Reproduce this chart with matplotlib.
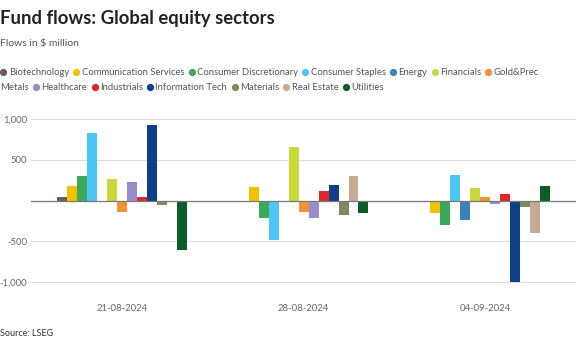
import numpy as np
import matplotlib.pyplot as plt
from matplotlib.lines import Line2D

dates = ["21-08-2024", "28-08-2024", "04-09-2024"]
sectors = ["Biotechnology", "Communication Services", "Consumer Discretionary",
           "Consumer Staples", "Energy", "Financials", "Gold&Prec Metals",
           "Healthcare", "Industrials", "Information Tech", "Materials",
           "Real Estate", "Utilities"]
colors = ["#6e5d50", "#f2c200", "#3da85c", "#4cc6f5", "#3b82b9", "#c9d93c",
          "#f3932e", "#9a8ccb", "#e0282c", "#0f3f88", "#7f8b5e", "#c8aa93",
          "#0b5d26"]
# flows per sector, one value per date
biotech = [40, 0, 0]
comm_services = [185, 170, -150]
cons_disc = [300, -220, -305]
cons_staples = [828, -483, 312]
energy = [-15, 0, -240]
financials = [263, 655, 156]
gold = [-135, -135, 42]
healthcare = [230, -216, -45]
industrials = [45, 115, 78]
info_tech = [933, 190, -1000]
materials = [-60, -175, -73]
real_estate = [0, 300, -393]
utilities = [-613, -155, 180]
values = [biotech, comm_services, cons_disc, cons_staples, energy, financials,
          gold, healthcare, industrials, info_tech, materials, real_estate,
          utilities]

plt.rcParams['font.family'] = ['Lato', 'DejaVu Sans']

fig = plt.figure(figsize=(5.76, 3.42), dpi=100)
ax = fig.add_axes([0.054, 0.152, 0.946, 0.523])

x = np.arange(len(dates))
w = 0.055
n = len(sectors)
for i, (vals, c) in enumerate(zip(values, colors)):
    ax.bar(x + (i - (n - 1) / 2) * w, vals, width=w, color=c, zorder=3)

ax.set_xlim(-0.5, 2.5)
ax.set_ylim(-1100, 1100)
ax.set_yticks([-1000, -500, 500, 1000])
ax.set_yticklabels(["-1,000", "-500", "500", "1,000"])
ax.set_xticks(x)
ax.set_xticklabels(dates)
ax.grid(axis='y', color='#dcdcdc', lw=0.8, zorder=0)
ax.axhline(0, color='#777777', lw=0.9, zorder=4)
for s in ax.spines.values():
    s.set_visible(False)
ax.tick_params(length=0, labelsize=6.8, colors='#666666')
ax.tick_params(axis='x', pad=10)
ax.tick_params(axis='y', pad=3)

fig.text(0.0, 0.947, "Fund flows: Global equity sectors", fontsize=13.3,
         fontweight='bold', color='#222222', va='center')
fig.text(0.0, 0.872, "Flows in $ million", fontsize=7.5, color='#555555', va='center')
fig.text(0.0, 0.026, "Source: LSEG", fontsize=6.5, color='#333333', va='center')

# legend laid out as flowing text with wrap
fig.canvas.draw()
r = fig.canvas.get_renderer()
fs = 6.8
y = 0.789
line_h = 0.044
xpos = 0.0
limit = 0.95
def text_w(s):
    t = fig.text(0, 0, s, fontsize=fs)
    bb = t.get_window_extent(renderer=r)
    t.remove()
    return bb.width / fig.bbox.width
for name, c in zip(sectors, colors):
    fig.add_artist(Line2D([xpos + 0.006], [y], marker='o', ms=4.2, color=c,
                          transform=fig.transFigure))
    xpos += 0.015
    words = name.split(" ")
    line = ""
    for wd in words:
        trial = (line + " " + wd).strip()
        if xpos + text_w(trial) > limit and line:
            fig.text(xpos, y, line, fontsize=fs, color='#555555', va='center')
            y -= line_h
            xpos = 0.0
            line = wd
        else:
            line = trial
    fig.text(xpos, y, line, fontsize=fs, color='#555555', va='center')
    xpos += text_w(line) + 0.007

fig.savefig("out.png", dpi=100)
